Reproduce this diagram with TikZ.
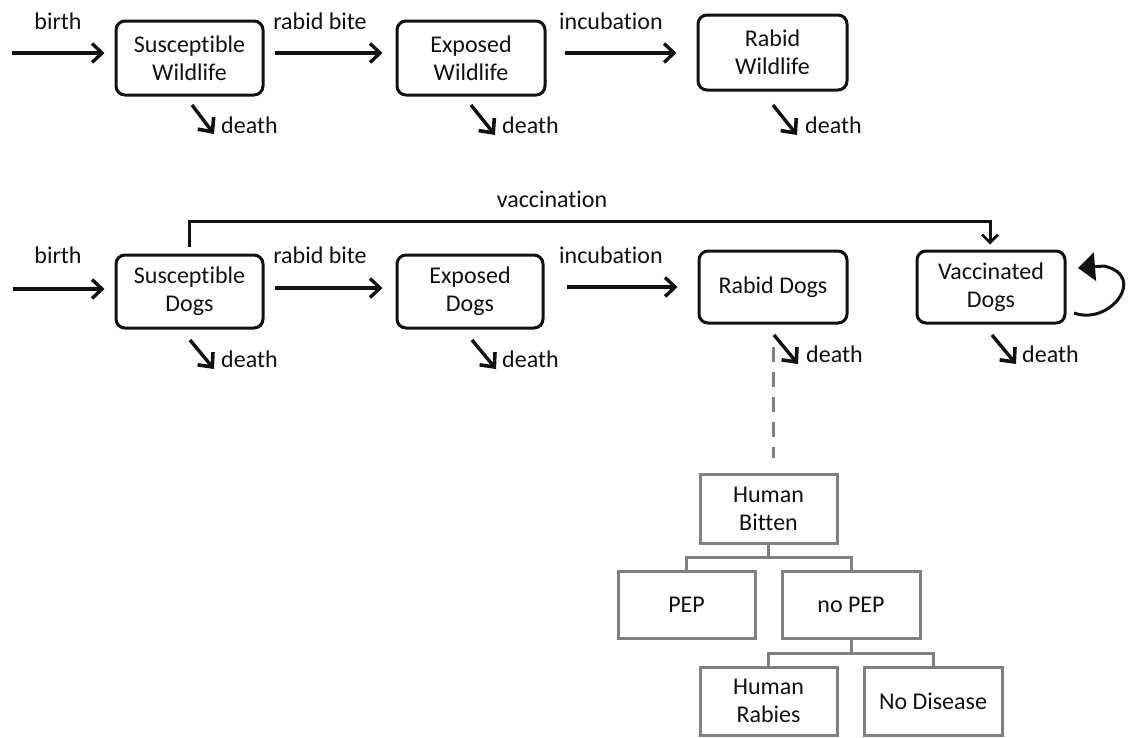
\documentclass[tikz,border=0pt]{standalone}
\usepackage{fontspec}
\setmainfont{Carlito}[Ligatures={NoCommon,NoContextual}]
\usetikzlibrary{arrows.meta}
\definecolor{treegray}{HTML}{7F7F7F}
\definecolor{ink}{HTML}{111111}
\begin{document}
\begin{tikzpicture}[x=1pt,y=-1pt,
  every node/.style={font=\fontsize{24}{28}\selectfont, text=ink, inner sep=0pt},
  box/.style={draw=ink, line width=3pt, rounded corners=9pt, rectangle, align=center},
  gbox/.style={draw=treegray, line width=3pt, rectangle, align=center},
  flow/.style={draw=ink, line width=3.2pt, -{Straight Barb[length=10pt,width=19pt,line width=3.4pt]}},
  deatharrow/.style={draw=ink, line width=3.4pt, -{Straight Barb[length=11pt,width=20pt,line width=3.6pt]}},
  vacc/.style={draw=ink, line width=3pt, -{Straight Barb[length=8pt,width=16pt,line width=2.8pt]}},
  loopa/.style={draw=ink, line width=3pt, -{Triangle[length=17pt,width=28pt]}},
  tree/.style={draw=treegray, line width=3pt},
  label/.style={anchor=base},
  dlabel/.style={anchor=base west}]
\useasboundingbox (0,0) rectangle (1131,737);

% ---------- wildlife row ----------
\node[box, minimum width=147pt, minimum height=74pt] (sw) at (189.5,58) {Susceptible\\Wildlife};
\node[box, minimum width=148pt, minimum height=74pt] (ew) at (471,58) {Exposed\\Wildlife};
\node[box, minimum width=149pt, minimum height=75pt] (rw) at (772.5,52.5) {Rabid\\Wildlife};

\coordinate (wbirth) at (12,53);
\draw[flow, shorten >=10pt] (wbirth) -- (sw.west |- wbirth);
\draw[flow, shorten <=10pt, shorten >=13pt] (sw.east |- 0,53) -- (ew.west |- 0,53);
\draw[flow, shorten <=18pt, shorten >=20pt] (ew.east |- 0,53) -- (rw.west |- 0,53);

\node[label] (lb1) at (58,29) {birth};
\node[label] (lr1) at (320,29) {rabid bite};
\node[label] (li1) at (611,29) {incubation};

\coordinate (swd1) at (192,105); \coordinate (swd2) at (214,134);
\draw[deatharrow] (swd1) -- (swd2);
\node[dlabel] (swdl) at (221,133) {death};
\coordinate (ewd1) at (471,105); \coordinate (ewd2) at (495,135);
\draw[deatharrow] (ewd1) -- (ewd2);
\node[dlabel] (ewdl) at (502,133) {death};
\coordinate (rwd1) at (773,105); \coordinate (rwd2) at (797,135);
\draw[deatharrow] (rwd1) -- (rwd2);
\node[dlabel] (rwdl) at (805,133) {death};

% ---------- dog row ----------
\node[box, minimum width=147pt, minimum height=73pt] (sd) at (189.5,291.5) {Susceptible\\Dogs};
\node[box, minimum width=146pt, minimum height=73pt] (ed) at (470,291.5) {Exposed\\Dogs};
\node[box, minimum width=148pt, minimum height=72pt] (rd) at (773,287) {Rabid Dogs};
\node[box, minimum width=148pt, minimum height=72pt] (vd) at (991,287) {Vaccinated\\Dogs};

\coordinate (dbirth) at (13,289);
\draw[flow, shorten >=10pt] (dbirth) -- (sd.west |- dbirth);
\draw[flow, shorten <=10pt, shorten >=13pt] (sd.east |- 0,288) -- (ed.west |- 0,288);
\draw[flow, shorten <=22pt, shorten >=20pt] (ed.east |- 0,287) -- (rd.west |- 0,287);

\node[label] (lb2) at (58,263) {birth};
\node[label] (lr2) at (320,263) {rabid bite};
\node[label] (li2) at (611,263) {incubation};

% vaccination
\coordinate (vstart) at (189,247);
\coordinate (vtop) at (990,221);
\draw[vacc, shorten >=5pt] (vstart) |- (vtop) -- (vd.north -| vtop);
\node[label] (lv) at (552,207) {vaccination};

% self loop
\coordinate (la) at (1074,313);
\coordinate (lb) at (1078,268);
\draw[loopa] (la) .. controls (1110,326) and (1148,276) .. (1104,266) -- (lb);

\coordinate (sdd1) at (190,340); \coordinate (sdd2) at (214,369);
\draw[deatharrow] (sdd1) -- (sdd2);
\node[dlabel] (sddl) at (221,367) {death};
\coordinate (edd1) at (472,340); \coordinate (edd2) at (496,369);
\draw[deatharrow] (edd1) -- (edd2);
\node[dlabel] (eddl) at (502,367) {death};
\coordinate (rdd1) at (774,335); \coordinate (rdd2) at (798,364);
\draw[deatharrow] (rdd1) -- (rdd2);
\node[dlabel] (rddl) at (806,362) {death};
\coordinate (vdd1) at (992,335); \coordinate (vdd2) at (1016,364);
\draw[deatharrow] (vdd1) -- (vdd2);
\node[dlabel] (vddl) at (1022,362) {death};

% dashed link
\draw[tree, dash pattern=on 15pt off 10pt] (rd.south |- 0,347) -- (rd.south |- 0,458);

% ---------- decision tree ----------
\node[gbox, minimum width=137pt, minimum height=69pt] (hb) at (768.5,508.5) {Human\\Bitten};
\node[gbox, minimum width=137pt, minimum height=67pt] (pep) at (686.5,604.5) {PEP};
\node[gbox, minimum width=138pt, minimum height=67pt] (nopep) at (851,604.5) {no PEP};
\node[gbox, minimum width=137pt, minimum height=68pt] (hr) at (768.5,701) {Human\\Rabies};
\node[gbox, minimum width=138pt, minimum height=68pt] (nd) at (933,701) {No Disease};

\coordinate (b1) at (768.5,557);
\draw[tree] (hb.south) -- (b1);
\draw[tree] (b1) -| (pep.north);
\draw[tree] (b1) -| (nopep.north);
\coordinate (b2) at (851,653);
\draw[tree] (nopep.south) -- (b2);
\draw[tree] (b2) -| (hr.north);
\draw[tree] (b2) -| (nd.north);
\end{tikzpicture}
\end{document}
